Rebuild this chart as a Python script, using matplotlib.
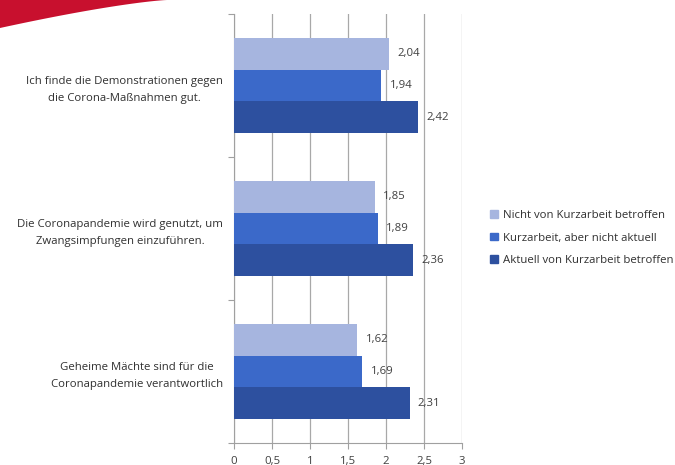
import numpy as np
import matplotlib
matplotlib.use('Agg')
import matplotlib.pyplot as plt
from matplotlib.patches import Polygon, Patch

plt.rcParams['font.family'] = ['Open Sans', 'DejaVu Sans']

# ---------- 数据 ----------
categories = [
    'Geheime Mächte sind für die\nCoronapandemie verantwortlich',
    'Die Coronapandemie wird genutzt, um\nZwangsimpfungen einzuführen.',
    'Ich finde die Demonstrationen gegen\ndie Corona-Maßnahmen gut.',
]
series_names = ['Nicht von Kurzarbeit betroffen',
                'Kurzarbeit, aber nicht aktuell',
                'Aktuell von Kurzarbeit betroffen']
nicht_betroffen = [1.62, 1.85, 2.04]
nicht_aktuell = [1.69, 1.89, 1.94]
aktuell = [2.31, 2.36, 2.42]
x_ticks = [0, 0.5, 1, 1.5, 2, 2.5, 3]
x_ticklabels = ['0', '0,5', '1', '1,5', '2', '2,5', '3']

colors = ['#A6B5DF', '#3B69C9', '#2D509F']
fs = 8.2

fig = plt.figure(figsize=(6.75, 4.65), dpi=100)

# 左上角红色装饰
t = np.linspace(0, 1, 50)
xs = 167 * t
ys = 28 * (1 - t) ** 1.3
pts = [(x / 675, 1 - y / 465) for x, y in zip(xs, ys)] + [(0, 1)]
fig.patches.append(Polygon(pts, closed=True, transform=fig.transFigure,
                           facecolor='#C8102E', edgecolor='none'))

ax = fig.add_axes([234 / 675, 1 - 443 / 465, 228 / 675, 429 / 465])

y = np.arange(len(categories))
h = 0.222
ax.barh(y + h, nicht_betroffen, height=h, color=colors[0], label=series_names[0], zorder=3)
ax.barh(y, nicht_aktuell, height=h, color=colors[1], label=series_names[1], zorder=3)
ax.barh(y - h, aktuell, height=h, color=colors[2], label=series_names[2], zorder=3)

for off, vals in [(h, nicht_betroffen), (0, nicht_aktuell), (-h, aktuell)]:
    for yi, v in zip(y, vals):
        ax.annotate(f'{v:.2f}'.replace('.', ','), (v, yi + off), xytext=(6, 0),
                    textcoords='offset points', va='center', ha='left',
                    fontsize=fs, color='#404040')

ax.set_xlim(0, 3)
ax.set_ylim(-0.5, 2.5)
ax.set_xticks(x_ticks)
ax.set_xticklabels(x_ticklabels, fontsize=fs, color='#404040')
ax.set_yticks([-0.5, 0.5, 1.5, 2.5])
ax.set_yticklabels([])
ax.set_yticks(y, minor=True)
ax.set_yticklabels(categories, minor=True, fontsize=fs, color='#303030',
                   multialignment='center', linespacing=1.75)
ax.tick_params(axis='y', which='minor', length=0, pad=8)
ax.tick_params(axis='y', which='major', length=4, color='#A0A0A0')
ax.tick_params(axis='x', length=4, color='#A0A0A0', pad=5)

ax.grid(axis='x', color='#A8A8A8', linewidth=0.9, zorder=0)
for s in ['top', 'right']:
    ax.spines[s].set_visible(False)
for s in ['left', 'bottom']:
    ax.spines[s].set_color('#A0A0A0')

handles = [Patch(color=c) for c in colors]
fig.legend(handles, series_names, loc='center left',
           bbox_to_anchor=(480 / 675, 1 - 238 / 465), frameon=False,
           fontsize=fs, handlelength=0.7, handleheight=0.7,
           handletextpad=0.4, labelspacing=1.0, labelcolor='#303030')

plt.savefig('out.png', dpi=100)
plt.close()
